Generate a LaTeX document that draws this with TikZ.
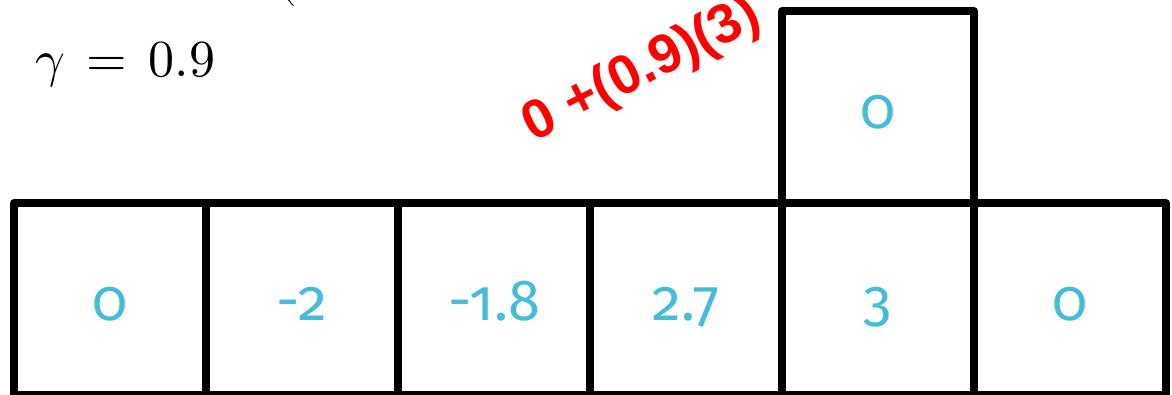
\documentclass[tikz,border=0pt]{standalone}
\usepackage{unicode-math}
\newfontfamily\numfont[Numbers=OldStyle]{Fira Sans}
\newfontfamily\handfont{Liberation Sans}
\definecolor{cellnum}{RGB}{70,189,214}
\definecolor{handred}{RGB}{255,0,0}
\begin{document}
\begin{tikzpicture}[x=1pt,y=-1pt,
  cell/.style={draw=black,line width=7.5pt,line join=round,minimum width=192pt,minimum height=192pt,inner sep=0pt,outer sep=0pt},
  val/.style={text=cellnum,font=\numfont\fontsize{58}{60}\selectfont,anchor=base,inner sep=0pt},
  note/.style={inner sep=0pt,font=\fontsize{52}{60}\selectfont},
]
\useasboundingbox (0,0) rectangle (1172,394);
\node[cell] (c1) at (110,299) {};
\node[cell] (c2) at (302,299) {};
\node[cell] (c3) at (494,299) {};
\node[cell] (c4) at (686,299) {};
\node[cell] (c5) at (878,299) {};
\node[cell] (c6) at (1070,299) {};
\node[cell] (top) at (878,107) {};
\node[val] (v1) at (110,320) {0};
\node[val] (v2) at (302,320) {-2};
\node[val] (v3) at (494,320) {-1.8};
\node[val] (v4) at (686,320) {2.7};
\node[val] (v5) at (878,320) {3};
\node[val] (v6) at (1070,320) {0};
\node[val] (vt) at (878,128) {0};
\node[note,anchor=base west] (gamma) at (35,76) {$\gamma \mkern2.5mu = \mkern2.5mu 0.9$};
\node[note,anchor=base west] (paren) at (278,-7) {(};
\node[inner sep=0pt,text=handred,font=\handfont\bfseries\fontsize{55}{60}\selectfont,rotate=27] (calc) at (642,71) {0 +(0.9)(3)};
\end{tikzpicture}
\end{document}
